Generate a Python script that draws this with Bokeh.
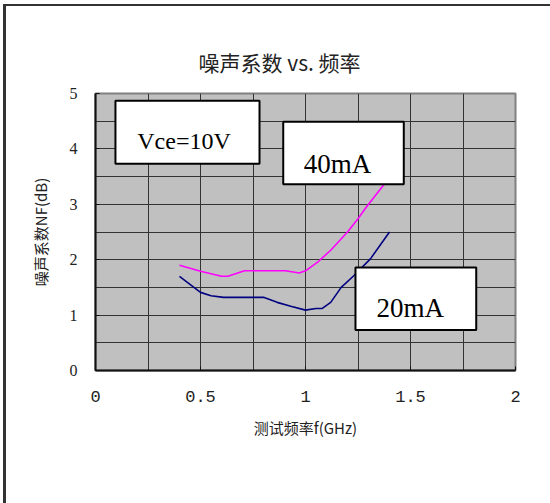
from bokeh.plotting import figure
from bokeh.models import FixedTicker, BoxAnnotation, Label, Range1d
from bokeh.embed import file_html
from bokeh.resources import INLINE
import numpy as np

# ---- data ----
freq_40mA = [0.40, 0.50, 0.60, 0.63, 0.71, 0.80, 0.905, 0.97, 1.00, 1.056, 1.12, 1.20, 1.25, 1.29, 1.37, 1.40]
nf_40mA   = [1.90, 1.79, 1.70, 1.70, 1.80, 1.80, 1.80, 1.76, 1.80, 1.95, 2.17, 2.50, 2.74, 2.95, 3.34, 3.50]
freq_20mA = [0.40, 0.50, 0.55, 0.61, 0.80, 0.865, 0.93, 1.00, 1.05, 1.08, 1.12, 1.17, 1.23, 1.31, 1.40]
nf_20mA   = [1.70, 1.41, 1.35, 1.32, 1.32, 1.23, 1.16, 1.09, 1.12, 1.12, 1.23, 1.50, 1.71, 2.02, 2.50]
x_ticks = [0, 0.5, 1, 1.5, 2]
x_tick_labels = ["0", "0.5", "1", "1.5", "2"]
y_ticks = [0, 1, 2, 3, 4, 5]
y_tick_labels = ["0", "1", "2", "3", "4", "5"]
title_text = "噪声系数 vs. 频率"
x_label = "测试频率f(GHz)"
y_label = "噪声系数NF(dB)"
annotations = ["Vce=10V", "40mA", "20mA"]

CJK = "Noto Sans CJK SC"

p = figure(width=550, height=503, output_backend="svg", toolbar_location=None,
           x_range=Range1d(0, 2), y_range=Range1d(0, 5),
           min_border_left=95, min_border_right=35, min_border_top=93, min_border_bottom=133,
           title=title_text)

p.border_fill_color = None
p.styles = {"background-color": "white",
            "box-shadow": "inset 3px 4px 0 0 white, inset 6px 6px 0 0 #333333"}

p.title.text_font = CJK
p.title.text_font_size = "21px"
p.title.text_font_style = "normal"
p.title.text_color = "#222222"
p.title.align = "left"
p.title.offset = 103
p.title.standoff = 33

p.background_fill_color = "#C0C0C0"
p.outline_line_color = "#808080"
p.outline_line_width = 2

# grid
p.xgrid.ticker = FixedTicker(ticks=list(np.arange(0, 2.01, 0.25)))
p.ygrid.ticker = FixedTicker(ticks=list(np.arange(0, 5.01, 0.5)))
for g in (p.xgrid, p.ygrid):
    g.grid_line_color = "#333333"
    g.grid_line_width = 1
    g.grid_line_alpha = 1.0

# axes
p.xaxis.ticker = FixedTicker(ticks=x_ticks)
p.xaxis.major_label_overrides = {t: l for t, l in zip(x_ticks, x_tick_labels)}
p.yaxis.ticker = FixedTicker(ticks=y_ticks)
p.yaxis.major_label_overrides = {t: l for t, l in zip(y_ticks, y_tick_labels)}
for ax in (p.xaxis, p.yaxis):
    ax.axis_line_color = "#111111"
    ax.axis_line_width = 2
    ax.major_tick_in = 4
    ax.major_tick_out = 0
    ax.major_tick_line_color = "#111111"
    ax.minor_tick_line_color = None
    ax.major_label_text_color = "#222222"
    ax.axis_label_text_color = "#222222"
    ax.axis_label_text_font_style = "normal"

p.xaxis.major_label_text_font = "Liberation Mono"
p.xaxis.major_label_text_font_size = "17px"
p.xaxis.major_label_standoff = 20
p.xaxis.axis_label = x_label
p.xaxis.axis_label_text_font = CJK
p.xaxis.axis_label_text_font_size = "15px"
p.xaxis.axis_label_standoff = 12

p.yaxis.major_label_text_font = "Liberation Serif"
p.yaxis.major_label_text_font_size = "16px"
p.yaxis.major_label_standoff = 18
p.yaxis.axis_label = y_label
p.yaxis.axis_label_text_font = CJK
p.yaxis.axis_label_text_font_size = "15px"
p.yaxis.axis_label_standoff = 16

# lines
p.line(freq_40mA, nf_40mA, line_color="#FF00FF", line_width=1.6)
p.line(freq_20mA, nf_20mA, line_color="#000080", line_width=1.6)

# annotation boxes
boxes = [
    dict(left=0.095, right=0.781, bottom=3.73, top=4.87),
    dict(left=0.894, right=1.468, bottom=3.36, top=4.49),
    dict(left=1.238, right=1.813, bottom=0.73, top=1.86),
]
label_pos = [(0.199, 4.15, "24px"), (0.992, 3.73, "27px"), (1.338, 1.125, "27px")]
for b, (lx, ly, fs), txt in zip(boxes, label_pos, annotations):
    p.add_layout(BoxAnnotation(fill_color="white", fill_alpha=1.0,
                               line_color="black", line_alpha=1.0, line_width=2, **b))
    p.add_layout(Label(x=lx, y=ly, text=txt, text_font="Liberation Serif",
                       text_font_size=fs, text_color="black", text_baseline="alphabetic"))

open("out.html", "w").write(file_html(p, INLINE))
